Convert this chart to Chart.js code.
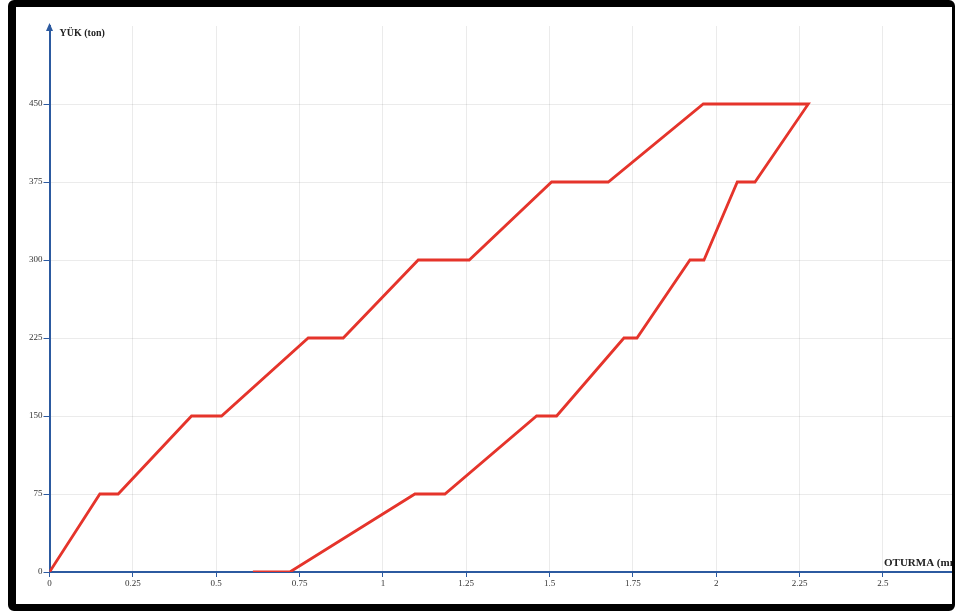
<!DOCTYPE html>
<html>
<head>
<meta charset="utf-8">
<script src="https://cdn.jsdelivr.net/npm/chart.js@4/dist/chart.umd.min.js"></script>
<style>
  html, body { margin: 0; padding: 0; background: #fff; }
  #wrap { position: relative; width: 955px; height: 611px; overflow: hidden; }
  #c { position: absolute; left: 0; top: 0; }
  #frame {
    position: absolute; left: 8px; top: 0; width: 947px; height: 611px;
    box-sizing: border-box; border: 7px solid #000; border-left-width: 8px; border-right-width: 3px;
    border-radius: 6px; pointer-events: none;
  }
</style>
</head>
<body>
<div id="wrap">
  <canvas id="c" width="955" height="611"></canvas>
  <div id="frame"></div>
</div>
<script>
// Load–settlement loop of a pile load test: loading branch then unloading branch
const settlement = [0, 0.151, 0.206, 0.426, 0.516, 0.776, 0.881, 1.106, 1.259, 1.506, 1.676, 1.961, 2.276,
                    2.116, 2.063, 1.963, 1.921, 1.762, 1.723, 1.521, 1.461, 1.186, 1.096, 0.721, 0.61];
const load       = [0, 75, 75, 150, 150, 225, 225, 300, 300, 375, 375, 450, 450,
                    375, 375, 300, 300, 225, 225, 150, 150, 75, 75, 0, 0];
const xTicks = [0, 0.25, 0.5, 0.75, 1, 1.25, 1.5, 1.75, 2, 2.25, 2.5];
const yTicks = [0, 75, 150, 225, 300, 375, 450];
const yTitle = 'YÜK (ton)';
const xTitle = 'OTURMA (mm)';

const AXIS = '#2c5aa0';
const tickFont = { family: 'Liberation Serif', size: 9 };

const titles = {
  id: 'titles',
  afterDraw(chart) {
    const { ctx, chartArea } = chart;
    const x0 = chartArea.left;
    ctx.save();
    // arrow head on top of the vertical axis
    ctx.fillStyle = AXIS;
    ctx.beginPath();
    ctx.moveTo(x0, chartArea.top - 3);
    ctx.lineTo(x0 - 3.5, chartArea.top + 5);
    ctx.lineTo(x0 + 3.5, chartArea.top + 5);
    ctx.closePath();
    ctx.fill();
    ctx.fillStyle = '#222';
    ctx.font = 'bold 10px "Liberation Serif"';
    ctx.textBaseline = 'middle';
    ctx.textAlign = 'left';
    ctx.fillText(yTitle, x0 + 10, chartArea.top + 7);
    ctx.font = 'bold 11px "Liberation Serif"';
    ctx.fillText(xTitle, 884, chartArea.bottom - 9);
    ctx.restore();
  }
};

new Chart(document.getElementById('c'), {
  type: 'scatter',
  data: {
    datasets: [{
      data: settlement.map((s, i) => ({ x: s, y: load[i] })),
      showLine: true,
      borderColor: '#e5342b',
      borderWidth: 2.8,
      pointRadius: 0,
      tension: 0
    }]
  },
  options: {
    responsive: false,
    devicePixelRatio: 1,
    animation: false,
    layout: { padding: { top: 26, right: 3, bottom: 0, left: 0 } },
    plugins: { legend: { display: false }, tooltip: { enabled: false } },
    scales: {
      x: {
        type: 'linear', min: 0, max: 2.707,
        afterBuildTicks(scale) { scale.ticks = xTicks.map(v => ({ value: v })); },
        afterFit(scale) { scale.height = 39; },
        border: { color: AXIS, width: 2 },
        grid: { color: 'rgba(0,0,0,0.08)', tickColor: AXIS, tickLength: 5, lineWidth: 1 },
        ticks: { font: tickFont, color: '#333', padding: 1, maxRotation: 0, autoSkip: false,
                 callback: v => String(v) }
      },
      y: {
        type: 'linear', min: 0, max: 525,
        afterBuildTicks(scale) { scale.ticks = yTicks.map(v => ({ value: v })); },
        afterFit(scale) { scale.width = 49.5; },
        border: { color: AXIS, width: 2 },
        grid: { color: 'rgba(0,0,0,0.08)', tickColor: AXIS, tickLength: 6, lineWidth: 1 },
        ticks: { font: tickFont, color: '#333', padding: 1, autoSkip: false,
                 callback: v => String(v) }
      }
    }
  },
  plugins: [titles]
});
</script>
</body>
</html>
